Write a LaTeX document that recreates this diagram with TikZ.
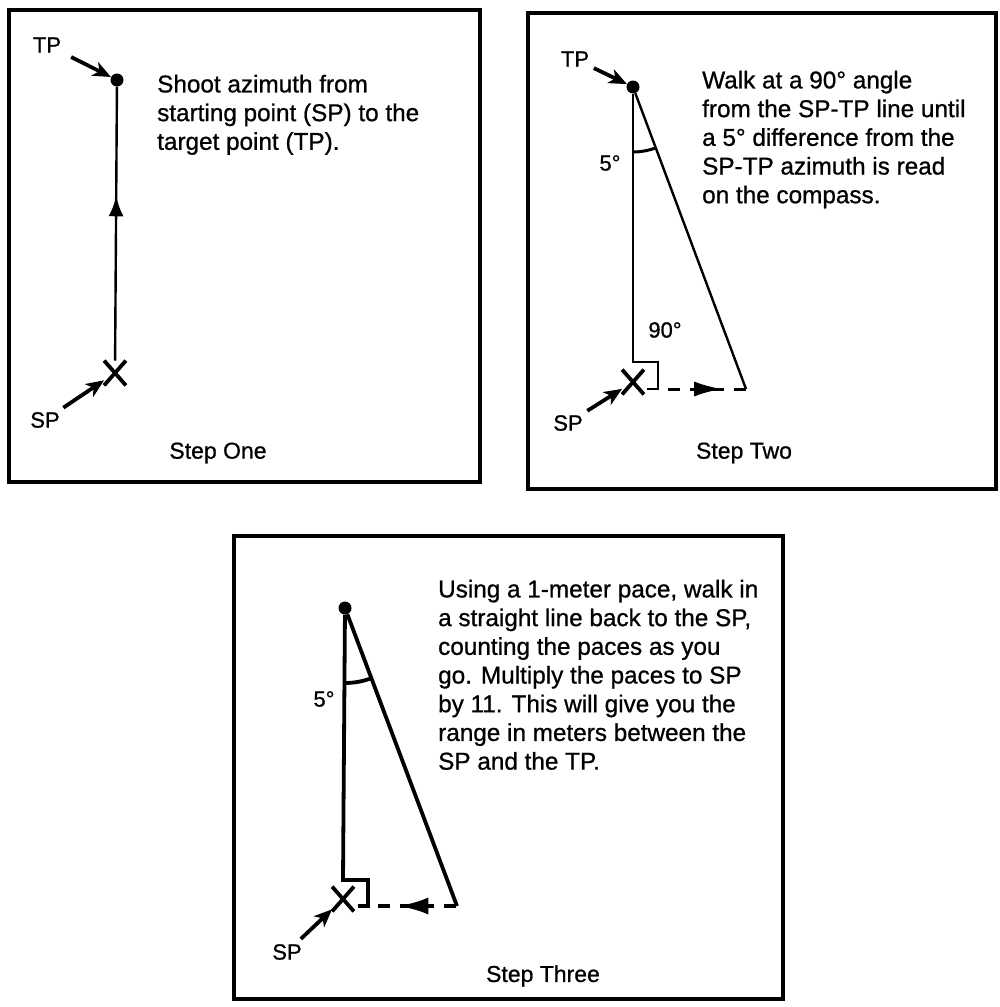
\documentclass[tikz,border=0pt]{standalone}
\usepackage{fontspec}
\setmainfont{Liberation Sans}
\newfontfamily\inkfont{Liberation Sans}[FakeBold=0.8]
\usetikzlibrary{arrows.meta,shapes.misc,angles,decorations.markings}
\tikzset{
  panel/.style={
    draw=black,
    line width=4.5pt
  },
  dot/.style={
    circle,
    fill=black,
    inner sep=0pt,
    minimum size=13pt
  },
  xmark/.style={
    cross out,
    draw=black,
    line width=3.8pt,
    inner sep=0pt,
    minimum width=18pt,
    minimum height=21pt
  },
  pointer/.style={
    -{Stealth[length=18pt,width=15pt,inset=5pt]},
    line width=3.8pt
  },
  leg/.style={
    line width=2.4pt
  },
  heavyleg/.style={
    line width=3.8pt
  },
  walk/.style={
    dash pattern=on 12pt off 10pt,
    dash phase=12pt
  },
  midarrow/.style n args={3}{
    postaction={decorate},
    decoration={markings,
      mark=at position #1 with {\arrow{Latex[length=#2,width=#3]}}}
  },
  backarrow/.style n args={3}{
    postaction={decorate},
    decoration={markings,
      mark=at position #1 with {\arrowreversed{Latex[length=#2,width=#3]}}}
  },
  tag/.style={
    font=\inkfont\fontsize{22}{26}\selectfont,
    inner sep=1pt
  },
  caption/.style={
    font=\inkfont\fontsize{23}{27}\selectfont
  },
  note/.style={
    anchor=north west,
    align=left,
    inner sep=0pt,
    font=\inkfont\fontsize{24.3}{28.7}\selectfont
  }
}

\begin{document}
\begin{tikzpicture}[x=1pt,y=1pt]
  \useasboundingbox (0,0) rectangle (1000,-1007);

  % Step One
  \draw[panel] (9,-10) rectangle (480,-482);
  \node[dot] (tpA) at (117,-80) {};
  \node[xmark] (spA) at (115,-373) {};
  \node[tag] (tpAlbl) at (47,-45) {TP};
  \node[tag] (spAlbl) at (45,-420) {SP};
  \draw[pointer, shorten <=10pt] (tpAlbl) -- (tpA);
  \draw[pointer, shorten <=6pt] (spAlbl) -- (spA);
  \draw[leg, midarrow={0.6}{20pt}{15pt}] (spA) -- (tpA);
  \node[note] (noteA) at (157,-74.6) {Shoot azimuth from\\starting point (SP) to the\\target point (TP).};
  \node[caption] (capA) at (218,-453) {Step One};

  % Step Two
  \draw[panel] (528,-13) rectangle (996,-489);
  \node[dot] (tpB) at (633,-87) {};
  \coordinate (cnB) at (633,-362);
  \coordinate (sqB) at (658,-389);
  \coordinate (endB) at (746,-389);
  \node[xmark] (spB) at (633,-382) {};
  \node[tag] (tpBlbl) at (575,-59) {TP};
  \node[tag] (spBlbl) at (568,-423) {SP};
  \draw[pointer, shorten <=4pt] (tpBlbl) -- (tpB);
  \draw[pointer, shorten <=6pt] (spBlbl) -- (spB);
  \draw[leg] (tpB) -- (cnB) -| (sqB) -- ++(-11,0);
  \draw[leg] (tpB) -- (endB);
  \draw[leg, line width=3pt, walk, midarrow={0.73}{28pt}{15pt}] (sqB) -- (endB);
  \pic[draw, leg, line width=3pt, angle radius=65pt] {angle=cnB--tpB--endB};
  \node[tag] (angBlbl) at (610,-163) {5°};
  \node[tag] (rtBlbl) at (665,-330) {90°};
  \node[note] (noteB) at (702,-70.6) {Walk at a 90° angle\\from the SP-TP line until\\a 5° difference from the\\SP-TP azimuth is read\\on the compass.};
  \node[caption] (capB) at (744,-453) {Step Two};

  % Step Three
  \draw[panel] (234,-536) rectangle (783,-999);
  \node[dot] (tpC) at (345,-608) {};
  \coordinate (cnC) at (343,-880);
  \coordinate (sqC) at (368,-906);
  \coordinate (endC) at (457,-906);
  \node[xmark] (spC) at (343,-899) {};
  \node[tag] (spClbl) at (287,-952) {SP};
  \draw[pointer, shorten <=6pt] (spClbl) -- (spC);
  \draw[heavyleg] (tpC) -- (cnC) -| (sqC) -- ++(-10,0);
  \draw[heavyleg] (tpC) -- (endC);
  \draw[heavyleg, walk, backarrow={0.34}{30pt}{17pt}] (sqC) -- (endC);
  \pic[draw, heavyleg, angle radius=75pt] {angle=cnC--tpC--endC};
  \node[tag] (angClbl) at (324,-699) {5°};
  \node[note] (noteC) at (438,-579.6) {Using a 1-meter pace, walk in\\a straight line back to the SP,\\counting the paces as you\\go. Multiply the paces to SP\\by 11. This will give you the\\range in meters between the\\SP and the TP.};
  \node[caption] (capC) at (543,-976) {Step Three};
\end{tikzpicture}
\end{document}
